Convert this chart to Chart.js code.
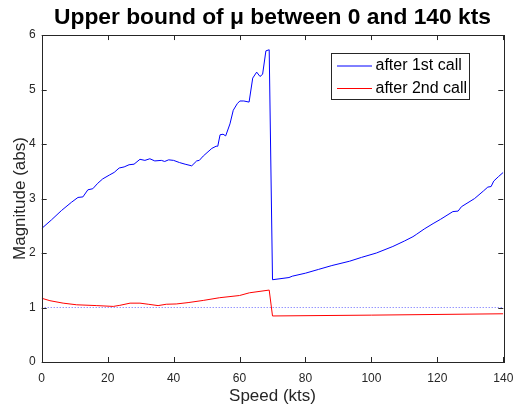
<!DOCTYPE html>
<html>
<head>
<meta charset="utf-8">
<script src="https://cdn.jsdelivr.net/npm/chart.js@4"></script>
<style>
  html, body { margin: 0; padding: 0; background: #fff; }
</style>
</head>
<body>
<canvas id="myChart" width="515" height="408"></canvas>
<script>
// Upper bound of mu

const blueSpeed = [0, 3, 6, 9, 11, 12.5, 14, 15.5, 17, 18.5, 20.5, 22, 23.5, 25, 26.5, 28, 29.8, 31.3, 32.8, 34.3,
    36.3, 37.3, 38.5, 40, 41.8, 43.5, 45.5, 47, 47.8, 49, 51.6, 52.9, 53.4, 54.1, 55, 55.8, 57.1, 58.1, 59.3, 60.1,
    61.3, 62.9, 64, 65.2, 66.2, 67, 68, 69, 70, 75, 76, 80, 84, 88, 93.4, 97, 101.5, 106.5, 110, 112.6, 113.6, 116,
    118.7, 121, 124.7, 126.3, 127.3, 131.3, 134, 135.3, 136.3, 137.1, 138.5, 140];
const blueMag = [2.45, 2.61, 2.78, 2.93, 3.02, 3.03, 3.16, 3.18, 3.28, 3.36, 3.43, 3.48, 3.56, 3.58, 3.62, 3.63, 3.72, 3.70, 3.73, 3.69,
    3.70, 3.68, 3.71, 3.70, 3.66, 3.63, 3.60, 3.69, 3.70, 3.78, 3.92, 3.96, 3.96, 4.17, 4.18, 4.15, 4.37, 4.62, 4.74, 4.79,
    4.79, 4.77, 5.21, 5.32, 5.24, 5.28, 5.71, 5.73, 1.51, 1.55, 1.575, 1.63, 1.70, 1.77, 1.85, 1.92, 2.00, 2.12, 2.22, 2.30, 2.34, 2.44,
    2.54, 2.62, 2.76, 2.77, 2.85, 3.00, 3.14, 3.21, 3.22, 3.32, 3.40, 3.48];

const redSpeed = [0, 2.5, 6.5, 10.6, 16.7, 21.7, 23.7, 26.8, 29.8, 32.3, 35.3, 37.8, 40.8, 44.4, 49, 54, 60, 63, 69, 70, 100, 140];
const redMag = [1.17, 1.125, 1.08, 1.05, 1.035, 1.02, 1.04, 1.08, 1.08, 1.06, 1.035, 1.06, 1.065, 1.09, 1.13, 1.18, 1.22, 1.27, 1.32, 0.845, 0.86, 0.885];

const refSpeed = [0, 140];
const refMag = [1, 1];

const xTicks = [0, 20, 40, 60, 80, 100, 120, 140];
const yTicks = [0, 1, 2, 3, 4, 5, 6];

const axisColor = '#262626';
const fontFam = 'Arial, "Liberation Sans", sans-serif';

function pts(xs, ys) {
    return xs.map((x, i) => ({ x: x, y: ys[i] }));
}

// box round the axes with inward ticks, like matlab
const framePlugin = {
    id: 'frame',
    afterDatasetsDraw(chart) {
        const { ctx, chartArea: a, scales } = chart;
        const len = 5;
        ctx.save();
        ctx.strokeStyle = axisColor;
        ctx.lineWidth = 1;
        ctx.beginPath();
        xTicks.forEach(v => {
            const px = Math.round(scales.x.getPixelForValue(v)) + 0.5;
            ctx.moveTo(px, a.bottom); ctx.lineTo(px, a.bottom - len);
            ctx.moveTo(px, a.top); ctx.lineTo(px, a.top + len);
        });
        yTicks.forEach(v => {
            const py = Math.round(scales.y.getPixelForValue(v)) + 0.5;
            ctx.moveTo(a.left, py); ctx.lineTo(a.left + len, py);
            ctx.moveTo(a.right, py); ctx.lineTo(a.right - len, py);
        });
        ctx.stroke();
        ctx.strokeRect(Math.round(a.left) + 0.5, Math.round(a.top) + 0.5,
            Math.round(a.right - a.left), Math.round(a.bottom - a.top));
        ctx.restore();
    }
};

// legend box inside the axes
const legendPlugin = {
    id: 'boxLegend',
    afterDraw(chart) {
        const ctx = chart.ctx;
        const x0 = 331.5, y0 = 53.5, w = 138, h = 46;
        ctx.save();
        ctx.fillStyle = '#fff';
        ctx.fillRect(x0, y0, w, h);
        ctx.strokeStyle = axisColor;
        ctx.lineWidth = 1;
        ctx.strokeRect(x0, y0, w, h);
        ctx.font = '16px ' + fontFam;
        ctx.textBaseline = 'middle';
        ctx.fillStyle = '#000';
        [0, 1].forEach(i => {
            const ds = chart.data.datasets[i];
            const y = i === 0 ? 66 : 88.5;
            ctx.strokeStyle = ds.borderColor;
            ctx.lineWidth = 1;
            ctx.beginPath();
            ctx.moveTo(337, y);
            ctx.lineTo(372, y);
            ctx.stroke();
            ctx.fillText(ds.label, 375.5, i === 0 ? 66 : 89);
        });
        ctx.restore();
    }
};

new Chart(document.getElementById('myChart'), {
    type: 'line',
    data: {
        datasets: [
            {
                label: 'after 1st call',
                data: pts(blueSpeed, blueMag),
                borderColor: 'rgb(0,0,255)',
                borderWidth: 1,
                pointRadius: 0,
            },
            {
                label: 'after 2nd call',
                data: pts(redSpeed, redMag),
                borderColor: 'rgb(255,0,0)',
                borderWidth: 1,
                pointRadius: 0,
            },
            {
                label: 'unity',
                data: pts(refSpeed, refMag),
                borderColor: 'rgba(0,0,255,0.6)',
                borderWidth: 1,
                borderDash: [1, 2],
                pointRadius: 0,
            },
        ],
    },
    options: {
        responsive: false,
        animation: false,
        layout: { padding: { left: 0, right: 11.7, top: 0, bottom: 0 } },
        plugins: {
            legend: { display: false },
            tooltip: { enabled: false },
            title: {
                display: true,
                fullSize: false,
                text: 'Upper bound of μ between 0 and 140 kts',
                color: '#000',
                font: { family: fontFam, size: 22.8, weight: 'bold', lineHeight: 1.2 },
                padding: { top: 4.5, bottom: 3.2 },
            },
        },
        scales: {
            x: {
                type: 'linear',
                min: 0,
                max: 140,
                afterBuildTicks: s => { s.ticks = xTicks.map(v => ({ value: v })); },
                afterFit: s => { s.height = 46; s.paddingLeft = 0; s.paddingRight = 0; },
                grid: { display: false, drawTicks: false },
                border: { display: false },
                ticks: { color: axisColor, padding: 9, maxRotation: 0,
                    font: { family: fontFam, size: 12 } },
                title: { display: true, text: 'Speed (kts)', color: axisColor,
                    padding: { top: 0, bottom: 1 },
                    font: { family: fontFam, size: 17, lineHeight: 1.2 } },
            },
            y: {
                min: 0,
                max: 6,
                afterBuildTicks: s => { s.ticks = yTicks.map(v => ({ value: v })); },
                afterFit: s => { s.width = 41.7; s.paddingTop = 0; s.paddingBottom = 0; },
                grid: { display: false, drawTicks: false },
                border: { display: false },
                ticks: { color: axisColor, padding: 6,
                    font: { family: fontFam, size: 12 } },
                title: { display: true, text: 'Magnitude (abs)', color: axisColor,
                    padding: { top: 10, bottom: 0 },
                    font: { family: fontFam, size: 17, lineHeight: 1.2 } },
            },
        },
    },
    plugins: [framePlugin, legendPlugin],
});
</script>
</body>
</html>
